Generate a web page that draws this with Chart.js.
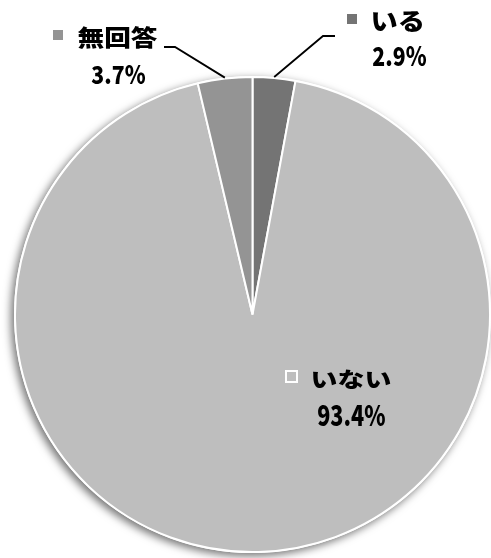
<!DOCTYPE html>
<html>
<head>
<meta charset="utf-8">
<script src="https://cdn.jsdelivr.net/npm/chart.js@4.4.0/dist/chart.umd.min.js"></script>
<style>
html,body{margin:0;padding:0;background:#fff;}
#wrap{width:491px;height:558px;position:relative;}
</style>
</head>
<body>
<div id="wrap"><canvas id="c" width="491" height="558"></canvas></div>
<script>
const categories = ['いる', 'いない', '無回答'];
const values = [2.9, 93.4, 3.7];
const valueLabels = ['2.9%', '93.4%', '3.7%'];
const colors = ['#747474', '#bebebe', '#949494'];

const FONT = '"Noto Sans CJK JP", "Noto Sans", sans-serif';
const WEIGHT = '900';
const BASE = 100;

function inkBounds(text) {
  const oc = document.createElement('canvas');
  oc.width = BASE * text.length * 1.5 + 100;
  oc.height = BASE * 2;
  const o = oc.getContext('2d');
  o.font = WEIGHT + ' ' + BASE + 'px ' + FONT;
  o.textBaseline = 'alphabetic';
  o.fillStyle = '#000';
  o.fillText(text, 50, BASE * 1.4);
  const d = o.getImageData(0, 0, oc.width, oc.height).data;
  let minX = 1e9, minY = 1e9, maxX = -1, maxY = -1;
  for (let y = 0; y < oc.height; y++) {
    for (let x = 0; x < oc.width; x++) {
      if (d[(y * oc.width + x) * 4 + 3] > 100) {
        if (x < minX) minX = x;
        if (x > maxX) maxX = x;
        if (y < minY) minY = y;
        if (y > maxY) maxY = y;
      }
    }
  }
  return { x0: minX - 50, x1: maxX + 1 - 50, y0: minY - BASE * 1.4, y1: maxY + 1 - BASE * 1.4 };
}

function drawFit(ctx, text, l, t, r, b) {
  const k = inkBounds(text);
  const sx = (r - l) / (k.x1 - k.x0);
  const sy = (b - t) / (k.y1 - k.y0);
  ctx.save();
  ctx.translate(l - k.x0 * sx, t - k.y0 * sy);
  ctx.scale(sx, sy);
  ctx.font = WEIGHT + ' ' + BASE + 'px ' + FONT;
  ctx.textBaseline = 'alphabetic';
  ctx.textAlign = 'left';
  ctx.fillStyle = '#000';
  ctx.fillText(text, 0, 0);
  ctx.restore();
}

const shadowPlugin = {
  id: 'shadow',
  beforeDatasetsDraw(chart) {
    const arc = chart.getDatasetMeta(0).data[0];
    if (!arc) return;
    const ctx = chart.ctx;
    ctx.save();
    ctx.shadowColor = 'rgba(0,0,0,0.55)';
    ctx.shadowBlur = 9;
    ctx.shadowOffsetX = -3;
    ctx.shadowOffsetY = 3;
    ctx.fillStyle = '#ffffff';
    ctx.beginPath();
    ctx.arc(arc.x, arc.y, arc.outerRadius + 1, 0, Math.PI * 2);
    ctx.fill();
    ctx.restore();
  }
};

const labelPlugin = {
  id: 'labels',
  afterDatasetsDraw(chart) {
    const ctx = chart.ctx;
    const arcs = chart.getDatasetMeta(0).data;
    const edge = (a) => {
      const mid = (a.startAngle + a.endAngle) / 2;
      const r = a.outerRadius + 1;
      return [a.x + Math.cos(mid) * r, a.y + Math.sin(mid) * r];
    };
    ctx.save();
    ctx.strokeStyle = '#000';
    ctx.lineWidth = 1.8;
    let p = edge(arcs[0]);
    ctx.beginPath();
    ctx.moveTo(p[0], p[1]);
    ctx.lineTo(323, 36);
    ctx.lineTo(335, 36);
    ctx.stroke();
    p = edge(arcs[2]);
    ctx.beginPath();
    ctx.moveTo(p[0], p[1]);
    ctx.lineTo(175, 47);
    ctx.lineTo(164, 47);
    ctx.stroke();
    ctx.restore();

    ctx.save();
    ctx.fillStyle = colors[0];
    ctx.fillRect(347, 14, 10, 10);
    ctx.fillStyle = colors[2];
    ctx.fillRect(53, 30, 10, 10);
    ctx.fillStyle = colors[1];
    ctx.strokeStyle = '#ffffff';
    ctx.lineWidth = 2;
    ctx.fillRect(286, 371, 11, 11);
    ctx.strokeRect(286, 371, 11, 11);
    ctx.restore();

    drawFit(ctx, categories[0], 373, 11, 422, 32);
    drawFit(ctx, valueLabels[0], 373, 46, 426, 66);
    drawFit(ctx, categories[2], 78, 26, 157, 48);
    drawFit(ctx, valueLabels[2], 92, 65, 145, 84);
    drawFit(ctx, categories[1], 313, 370, 390, 389);
    drawFit(ctx, valueLabels[1], 318, 404, 385, 426);
  }
};

new Chart(document.getElementById('c'), {
  type: 'pie',
  data: {
    labels: categories,
    datasets: [{
      data: values,
      backgroundColor: colors,
      borderColor: '#ffffff',
      borderWidth: 2,
      hoverOffset: 0,
      offset: 0
    }]
  },
  options: {
    responsive: false,
    animation: false,
    rotation: 0,
    layout: { padding: { left: 14, top: 76, right: 0, bottom: 5 } },
    plugins: {
      legend: { display: false },
      tooltip: { enabled: false }
    },
    events: []
  },
  plugins: [shadowPlugin, labelPlugin]
});
</script>
</body>
</html>
